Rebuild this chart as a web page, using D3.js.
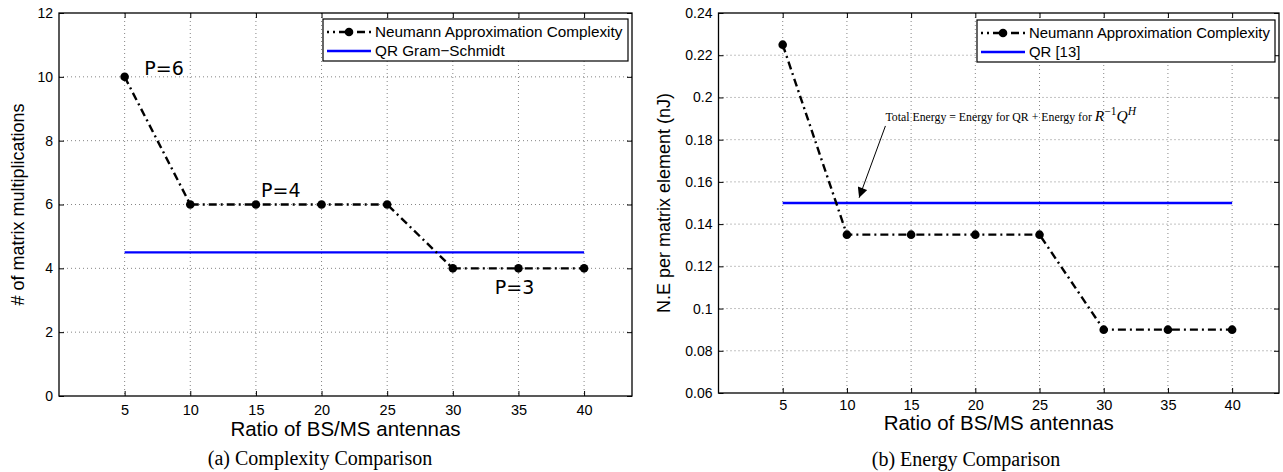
<!DOCTYPE html>
<html>
<head>
<meta charset="utf-8">
<script src="https://cdn.jsdelivr.net/npm/d3@7"></script>
<style>
  body { margin: 0; background: #fff; }
  text { font-family: "Liberation Sans", Arial, sans-serif; fill: #000; }
  .caption { font-family: "Liberation Serif", "Times New Roman", serif; }
  .note { font-family: "Liberation Serif", "Times New Roman", serif; }
  .plabel { font-family: "DejaVu Sans", sans-serif; }
</style>
</head>
<body>
<div id="chart"></div>
<script>
// values
var ratios = [5, 10, 15, 20, 25, 30, 35, 40];
var complexityNeumann = [10, 6, 6, 6, 6, 4, 4, 4];
var complexityQR = [4.5, 4.5, 4.5, 4.5, 4.5, 4.5, 4.5, 4.5];
var energyNeumann = [0.225, 0.135, 0.135, 0.135, 0.135, 0.09, 0.09, 0.09];
var energyQR = [0.15, 0.15, 0.15, 0.15, 0.15, 0.15, 0.15, 0.15];
var xTicks = [5, 10, 15, 20, 25, 30, 35, 40];
var yTicksA = [0, 2, 4, 6, 8, 10, 12];
var yTicksB = [0.06, 0.08, 0.1, 0.12, 0.14, 0.16, 0.18, 0.2, 0.22, 0.24];
var pLabels = [{text: "P=6", x: 8, y: 10.05}, {text: "P=4", x: 16.9, y: 6.23}, {text: "P=3", x: 34.7, y: 3.2}];

var svg = d3.select("#chart")
  .append("svg")
    .attr("width", 1283)
    .attr("height", 472);

svg.append("defs").append("marker")
    .attr("id", "arrow")
    .attr("viewBox", "0 0 10 10")
    .attr("refX", 10)
    .attr("refY", 5)
    .attr("markerWidth", 12)
    .attr("markerHeight", 10)
    .attr("markerUnits", "userSpaceOnUse")
    .attr("orient", "auto")
  .append("path")
    .attr("d", "M0,0 L10,5 L0,10 Z")
    .style("fill", "#000");

function panel(p) {
  var x = d3.scaleLinear().domain([0, 43.65]).range([p.left, p.right]);
  var y = d3.scaleLinear().domain(p.yDomain).range([p.bottom, p.top]);
  var g = svg.append("g");

  // dotted grid
  g.append("g")
    .selectAll("line")
    .data(xTicks)
    .join("line")
      .attr("x1", d => x(d)).attr("x2", d => x(d))
      .attr("y1", p.top).attr("y2", p.bottom)
      .style("stroke", "#666").style("stroke-width", 0.8)
      .style("stroke-dasharray", "1,3");
  g.append("g")
    .selectAll("line")
    .data(p.yTicks.slice(1, -1))
    .join("line")
      .attr("x1", p.left).attr("x2", p.right)
      .attr("y1", d => y(d)).attr("y2", d => y(d))
      .style("stroke", "#666").style("stroke-width", 0.8)
      .style("stroke-dasharray", "1,3");

  // axes, ticks pointing inside
  g.append("g")
    .attr("transform", "translate(0," + p.bottom + ")")
    .call(d3.axisBottom(x).tickValues(xTicks).tickSize(-5).tickPadding(p.xPad))
    .call(a => a.select(".domain").remove())
    .call(a => a.selectAll("text").style("font-size", "14.5px"));
  g.append("g")
    .attr("transform", "translate(0," + p.top + ")")
    .call(d3.axisTop(x).tickValues(xTicks).tickSize(-5).tickFormat(""))
    .call(a => a.select(".domain").remove());
  g.append("g")
    .attr("transform", "translate(" + p.left + ",0)")
    .call(d3.axisLeft(y).tickValues(p.yTicks).tickSize(-5).tickPadding(6).tickFormat(p.yFormat))
    .call(a => a.select(".domain").remove())
    .call(a => a.selectAll("text").style("font-size", "14px"));
  g.append("g")
    .attr("transform", "translate(" + p.right + ",0)")
    .call(d3.axisRight(y).tickValues(p.yTicks).tickSize(-5).tickFormat(""))
    .call(a => a.select(".domain").remove());
  g.selectAll(".tick line").style("stroke", "#000");

  g.append("rect")
    .attr("x", p.left).attr("y", p.top)
    .attr("width", p.right - p.left).attr("height", p.bottom - p.top)
    .style("fill", "none").style("stroke", "#000").style("stroke-width", 1.3);

  // series
  g.append("path")
    .datum(ratios)
    .attr("d", d3.line().x(d => x(d)).y((d, i) => y(p.qr[i])))
    .style("fill", "none").style("stroke", "#0000ff").style("stroke-width", 2.4);
  g.append("path")
    .datum(ratios)
    .attr("d", d3.line().x(d => x(d)).y((d, i) => y(p.neumann[i])))
    .style("fill", "none").style("stroke", "#000").style("stroke-width", 2.4)
    .style("stroke-dasharray", "8,4,2,4");
  g.selectAll(".dot")
    .data(ratios)
    .join("circle")
      .attr("class", "dot")
      .attr("cx", d => x(d))
      .attr("cy", (d, i) => y(p.neumann[i]))
      .attr("r", 4.3)
      .style("fill", "#000");

  // axis titles and caption
  g.append("text")
    .attr("text-anchor", "middle")
    .attr("x", (p.left + p.right) / 2)
    .attr("y", p.bottom + p.titleGap)
    .style("font-size", "20.5px")
    .text("Ratio of BS/MS antennas");
  g.append("text")
    .attr("text-anchor", "middle")
    .attr("transform", "translate(" + p.yTitleX + "," + (p.top + p.bottom) / 2 + ") rotate(-90)")
    .style("font-size", "18px")
    .text(p.yTitle);
  g.append("text")
    .attr("class", "caption")
    .attr("text-anchor", "middle")
    .attr("x", p.captionX)
    .attr("y", p.captionY)
    .style("font-size", "20px")
    .text(p.caption);

  // legend
  var lg = g.append("g").attr("transform", "translate(" + p.legend[0] + "," + p.legend[1] + ")");
  lg.append("rect")
    .attr("width", p.legend[2]).attr("height", 42)
    .style("fill", "#fff").style("stroke", "#000").style("stroke-width", 1.2);
  lg.append("line")
    .attr("x1", 4).attr("x2", 48).attr("y1", 13).attr("y2", 13)
    .style("stroke", "#000").style("stroke-width", 2.4).style("stroke-dasharray", "8,4,2,4")
    .style("stroke-dashoffset", 6);
  lg.append("circle").attr("cx", 26).attr("cy", 13).attr("r", 4.3).style("fill", "#000");
  lg.append("line")
    .attr("x1", 4).attr("x2", 48).attr("y1", 32).attr("y2", 32)
    .style("stroke", "#0000ff").style("stroke-width", 2.4);
  lg.append("text").attr("x", 52).attr("y", 18).style("font-size", p.legendFont)
    .text("Neumann Approximation Complexity");
  lg.append("text").attr("x", 52).attr("y", 37).style("font-size", p.legendFont)
    .text(p.qrName);

  return {g: g, x: x, y: y};
}

var a = panel({
  left: 59, right: 632, top: 13, bottom: 396,
  yDomain: [0, 12], yTicks: yTicksA, yFormat: d3.format("d"),
  neumann: complexityNeumann, qr: complexityQR,
  xPad: 9, titleGap: 40, yTitleX: 24,
  yTitle: "# of matrix multiplications",
  caption: "(a) Complexity Comparison", captionX: 320, captionY: 465,
  legend: [323, 19, 305], legendFont: "15.3px", qrName: "QR Gram\u2212Schmidt"
});

a.g.selectAll(".plabel")
  .data(pLabels)
  .join("text")
    .attr("class", "plabel")
    .attr("text-anchor", "middle")
    .attr("x", d => a.x(d.x))
    .attr("y", d => a.y(d.y))
    .style("font-size", "19px")
    .text(d => d.text);

var b = panel({
  left: 718.5, right: 1279, top: 13, bottom: 393,
  yDomain: [0.06, 0.24], yTicks: yTicksB, yFormat: d => +d.toFixed(2),
  neumann: energyNeumann, qr: energyQR,
  xPad: 7, titleGap: 37, yTitleX: 670,
  yTitle: "N.E per matrix element (nJ)",
  caption: "(b) Energy Comparison", captionX: 966, captionY: 466,
  legend: [977, 20, 298], legendFont: "14.9px", qrName: "QR [13]"
});

// annotation on the energy panel
var note = b.g.append("text")
  .attr("class", "note")
  .attr("x", b.x(13))
  .attr("y", b.y(0.189))
  .style("font-size", "11.8px");
note.append("tspan").text("Total Energy = Energy for QR + Energy for ");
note.append("tspan").style("font-style", "italic").style("font-size", "15.5px").text(" R");
note.append("tspan").attr("dy", -6).style("font-size", "11.5px").text("\u22121");
note.append("tspan").attr("dy", 6).style("font-style", "italic").style("font-size", "15.5px").text("Q");
note.append("tspan").attr("dy", -6).style("font-style", "italic").style("font-size", "11.5px").text("H");

b.g.append("line")
  .attr("x1", b.x(13)).attr("y1", b.y(0.1865))
  .attr("x2", b.x(10.95)).attr("y2", b.y(0.1525))
  .style("stroke", "#000").style("stroke-width", 1)
  .attr("marker-end", "url(#arrow)");
</script>
</body>
</html>
